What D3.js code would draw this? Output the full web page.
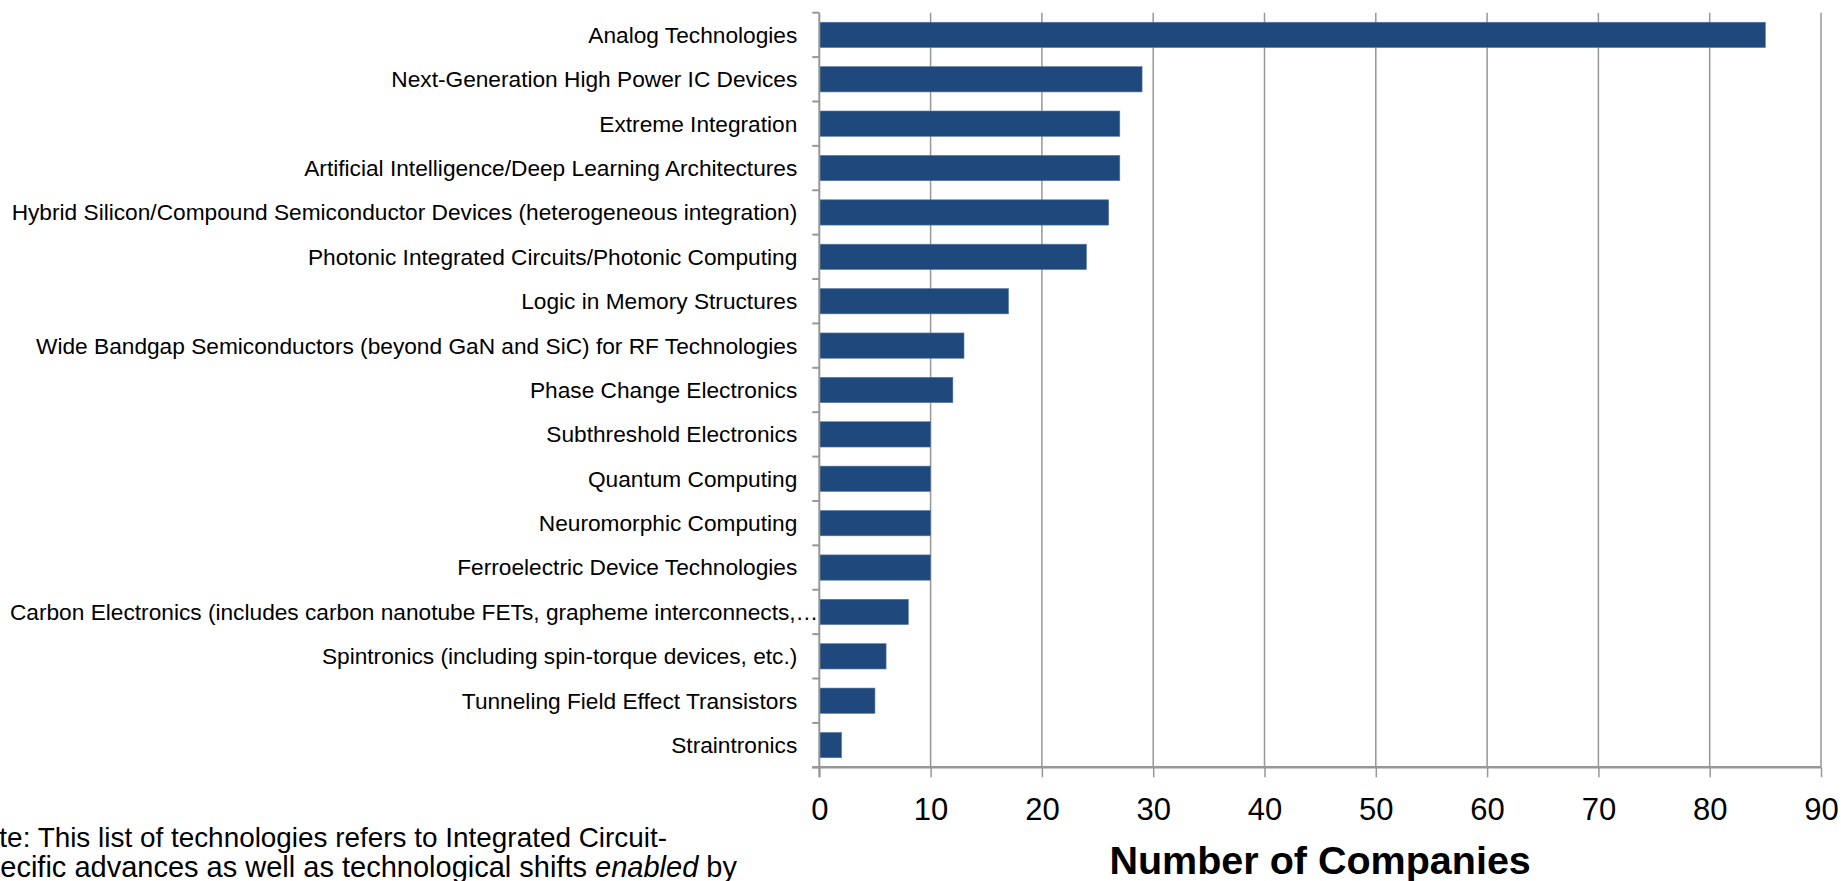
<!DOCTYPE html>
<html>
<head>
<meta charset="utf-8">
<script src="https://cdn.jsdelivr.net/npm/d3@7"></script>
<style>
  html, body { margin: 0; padding: 0; background: #ffffff; }
  svg { display: block; }
  text { font-family: "Liberation Sans", Arial, Helvetica, sans-serif; fill: #000; }
</style>
</head>
<body>
<svg id="chart" width="1841" height="881"></svg>
<script>
const categories = [
  "Analog Technologies",
  "Next-Generation High Power IC Devices",
  "Extreme Integration",
  "Artificial Intelligence/Deep Learning Architectures",
  "Hybrid Silicon/Compound Semiconductor Devices (heterogeneous integration)",
  "Photonic Integrated Circuits/Photonic Computing",
  "Logic in Memory Structures",
  "Wide Bandgap Semiconductors (beyond GaN and SiC) for RF Technologies",
  "Phase Change Electronics",
  "Subthreshold Electronics",
  "Quantum Computing",
  "Neuromorphic Computing",
  "Ferroelectric Device Technologies",
  "Carbon Electronics (includes carbon nanotube FETs, grapheme interconnects,\u2026",
  "Spintronics (including spin-torque devices, etc.)",
  "Tunneling Field Effect Transistors",
  "Straintronics"
];
const companies = [85, 29, 27, 27, 26, 24, 17, 13, 12, 10, 10, 10, 10, 8, 6, 5, 2];
const xTicks = [0, 10, 20, 30, 40, 50, 60, 70, 80, 90];
const xTitle = "Number of Companies";
const noteLines = [
  ["Note: This list of technologies refers to Integrated Circuit-"],
  ["specific advances as well as technological shifts ", "enabled", " by"]
];

(function () {
const svg = d3.select("#chart");
const pLeft = 819.3, pRight = 1821, pTop = 12.7, pBottom = 767.3;
const gridColor = "#979797";

const x = d3.scaleLinear().domain([0, 90]).range([pLeft, pRight]);
const y = d3.scaleBand().domain(categories).range([pTop, pBottom])
  .paddingInner(0.43).paddingOuter(0.215);

// gridlines
svg.append("g").selectAll("line").data(xTicks.filter(d => d > 0)).join("line")
  .attr("x1", d => x(d)).attr("x2", d => x(d))
  .attr("y1", pTop).attr("y2", pBottom)
  .attr("stroke", gridColor).attr("stroke-width", 1.5);

// bars
svg.append("g").selectAll("rect").data(categories).join("rect")
  .attr("x", x(0))
  .attr("y", d => y(d))
  .attr("width", (d, i) => x(companies[i]) - x(0))
  .attr("height", y.bandwidth())
  .attr("fill", "#1f497d")
  .attr("stroke", "#5878a3").attr("stroke-width", 0.6);

// y axis line + boundary ticks
const step = y.step();
const bounds = d3.range(categories.length + 1).map(i => pTop + i * step);
svg.append("line").attr("x1", x(0)).attr("x2", x(0)).attr("y1", pTop).attr("y2", pBottom + 10)
  .attr("stroke", gridColor).attr("stroke-width", 2);
svg.append("g").selectAll("line").data(bounds).join("line")
  .attr("x1", x(0) - 7).attr("x2", x(0)).attr("y1", d => d).attr("y2", d => d)
  .attr("stroke", gridColor).attr("stroke-width", 2);

// category labels
svg.append("g").selectAll("text").data(categories).join("text")
  .attr("x", (d, i) => i === 13 ? x(0) - 1 : x(0) - 22)
  .attr("y", d => y(d) + y.bandwidth() / 2)
  .attr("dy", "0.35em")
  .attr("text-anchor", "end")
  .style("font-size", "22.7px")
  .text(d => d);

// x axis
const xAxis = d3.axisBottom(x).tickValues(xTicks).tickSize(10).tickPadding(21).tickSizeOuter(0);
const gx = svg.append("g").attr("transform", `translate(0,${pBottom})`).call(xAxis);
gx.select(".domain").attr("stroke", gridColor).attr("stroke-width", 2.5)
  .attr("d", `M${x(0) - 7},0H${pRight}`);
gx.selectAll(".tick line").attr("stroke", gridColor).attr("stroke-width", 1.5);
gx.selectAll(".tick text")
  .style("font-size", "31px")
  .style("font-family", '"Liberation Sans", Arial, sans-serif')
  .attr("fill", "#000");

// x axis title
svg.append("text")
  .attr("x", (pLeft + pRight) / 2)
  .attr("y", 874)
  .attr("text-anchor", "middle")
  .style("font-size", "39.5px")
  .style("font-weight", "bold")
  .text(xTitle);

// note (right-aligned at the measured line ends, partly cut at the left edge as in the source)
const noteEnds = [667, 737];
const noteSizes = [27.9, 29];
const note = svg.append("g");
noteLines.forEach((parts, li) => {
  const t = note.append("text")
    .attr("x", noteEnds[li])
    .attr("y", 846.7 + li * 30)
    .attr("text-anchor", "end")
    .style("font-size", noteSizes[li] + "px");
  parts.forEach((p, pi) => {
    t.append("tspan").text(p).style("font-style", (li === 1 && pi === 1) ? "italic" : "normal");
  });
});
})();
</script>
</body>
</html>
